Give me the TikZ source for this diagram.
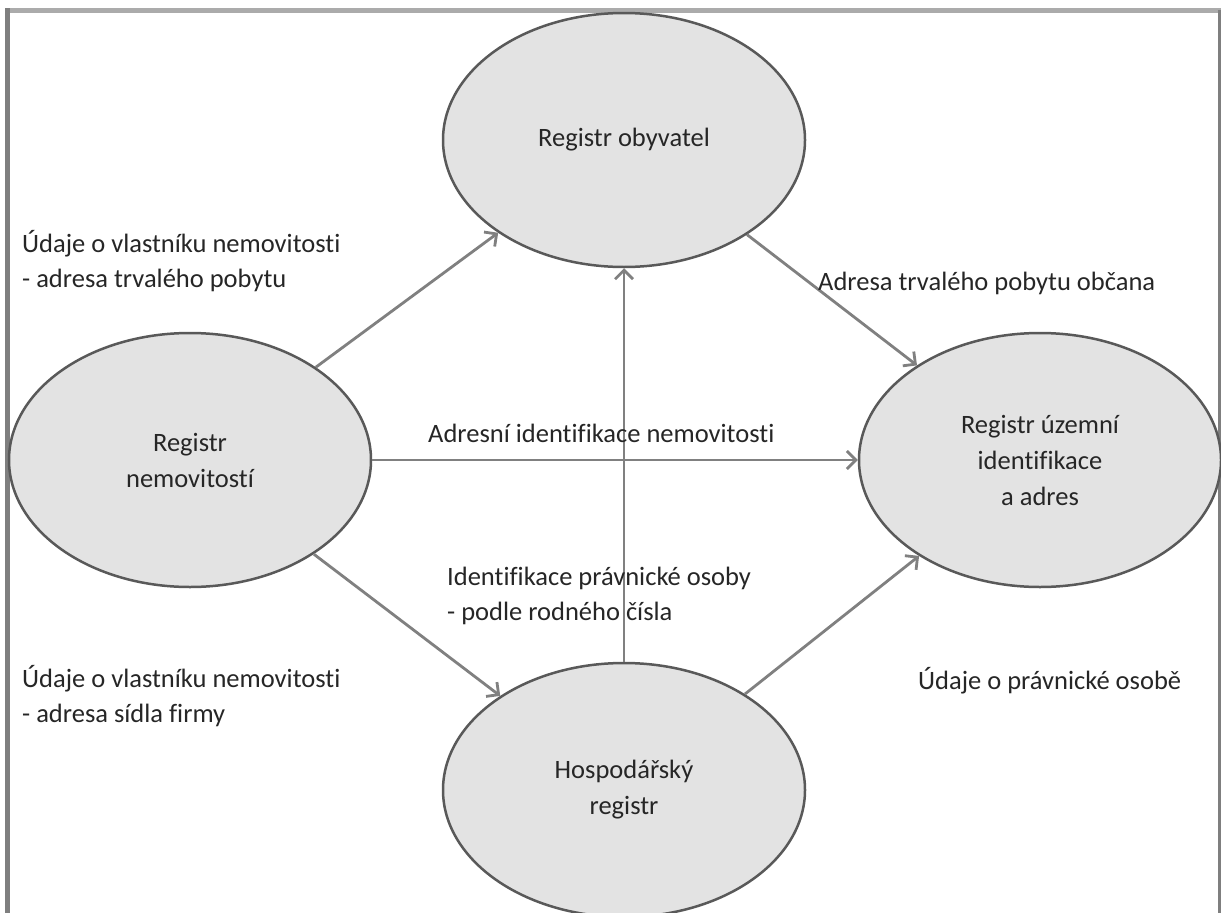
\documentclass[tikz,border=0pt]{standalone}
\usepackage{fontspec}
\setmainfont{Carlito}[Ligatures={NoCommon}]
\usetikzlibrary{shapes.geometric,arrows.meta}
\definecolor{efill}{HTML}{E3E3E3}
\definecolor{edraw}{HTML}{595959}
\definecolor{arr}{HTML}{808080}
\definecolor{txt}{HTML}{262626}
\definecolor{frameA}{HTML}{ABABAB}
\definecolor{frameB}{HTML}{7F7F7F}
\tikzset{
  reg/.style={ellipse, draw=edraw, fill=efill, line width=2.5pt,
    minimum width=362pt, minimum height=254pt, inner sep=0pt,
    align=center, text=txt, font=\fontsize{26.5}{36}\selectfont},
  lab/.style={anchor=west, align=left, text=txt, inner sep=0pt,
    font=\fontsize{26.5}{35}\selectfont},
  flow/.style={draw=arr, line width=2.8pt,
    -{Straight Barb[length=9pt,width=18pt]}}
}
\begin{document}
\begin{tikzpicture}[x=1pt,y=-1pt]
\useasboundingbox (0,0) rectangle (1221,913);
\clip (0,0) rectangle (1221,913);
\fill[white] (0,0) rectangle (1221,913);
% frame
\draw[frameA, line width=5pt] (5,10.5) -- (1221,10.5);
\draw[frameB, line width=5pt] (7.5,8) -- (7.5,913);
\draw[frameB, line width=3pt] (1219.5,10) -- (1219.5,913);
% registers
\node[reg] (obyv) at (624,140) {Registr obyvatel};
\node[reg] (nem)  at (190,460) {Registr\\nemovitostí};
\node[reg] (uz)   at (1040,460) {Registr územní\\identifikace\\a adres};
\node[reg] (hosp) at (624,790) {Hospodářský\\registr};
% connectors
\draw[flow] (nem) -- (obyv);
\draw[flow] (nem) -- (uz);
\draw[flow] (nem) -- (hosp);
\draw[flow] (obyv) -- (uz);
\draw[flow] (hosp) -- (obyv);
\draw[flow] (hosp) -- (uz);
% labels
\node[lab] (l1) at (22,261) {Údaje o vlastníku nemovitosti\\- adresa trvalého pobytu};
\node[lab] (l2) at (818,283) {Adresa trvalého pobytu občana};
\node[lab] (l3) at (428,433) {Adresní identifikace nemovitosti};
\node[lab] (l4) at (447,596) {Identifikace právnické osoby\\- podle rodného čísla};
\node[lab] (l5) at (22,696) {Údaje o vlastníku nemovitosti\\- adresa sídla firmy};
\node[lab] (l6) at (918,681) {Údaje o právnické osobě};
\end{tikzpicture}
\end{document}
